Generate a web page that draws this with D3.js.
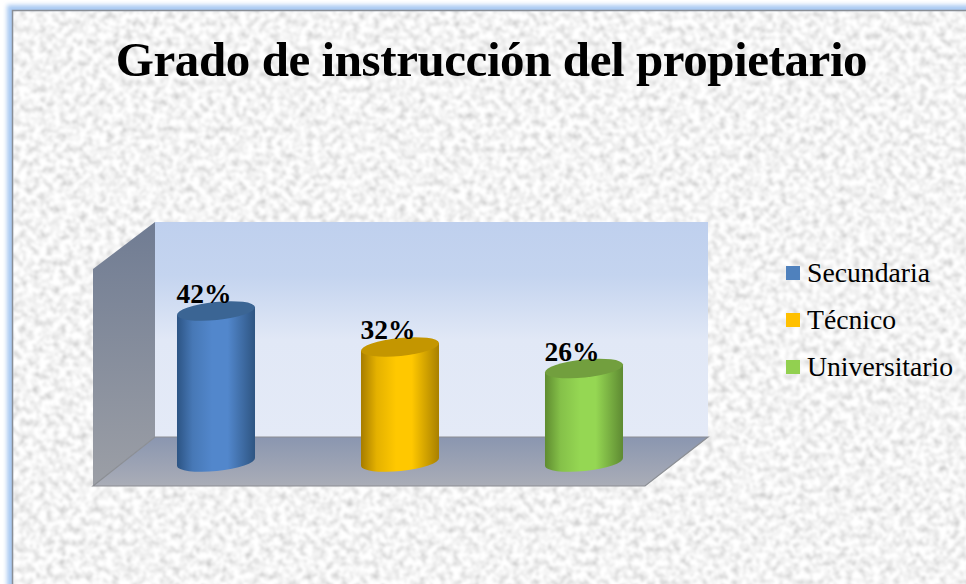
<!DOCTYPE html>
<html>
<head>
<meta charset="utf-8">
<script src="https://cdn.jsdelivr.net/npm/d3@7"></script>
<style>
  html, body { margin: 0; padding: 0; background: #fff; overflow: hidden; }
  svg { display: block; }
  text { font-family: "Liberation Serif", serif; fill: #000; }
</style>
</head>
<body>
<div id="chart"></div>
<script>
// chart values
const categories = ["Secundaria", "Técnico", "Universitario"];
const values = [42, 32, 26];
const valueLabels = ["42%", "32%", "26%"];
const chartTitle = "Grado de instrucción del propietario";

// colours per series: left edge, middle, right edge, cap, legend
const shades = [
  ["#2c5484", "#5287cc", "#2e5582", "#3b6594", "#4f81bd"],
  ["#a67c00", "#ffc800", "#a88000", "#c49600", "#ffc000"],
  ["#5f8c30", "#95d753", "#5e8a32", "#729f3e", "#92d050"]
];

const width = 966, height = 584;

const svg = d3.select("#chart").append("svg")
    .attr("width", width)
    .attr("height", height);

const defs = svg.append("defs");

// paper texture for the background
const paper = defs.append("filter")
    .attr("id", "paper")
    .attr("x", 0).attr("y", 0).attr("width", "100%").attr("height", "100%");
paper.append("feTurbulence")
    .attr("type", "fractalNoise")
    .attr("baseFrequency", 0.15)
    .attr("numOctaves", 2)
    .attr("seed", 7);
paper.append("feColorMatrix")
    .attr("type", "matrix")
    .attr("values", "0.8 0 0 0 0.5  0.8 0 0 0 0.5  0.8 0 0 0 0.5  0 0 0 0 1");
paper.append("feGaussianBlur").attr("stdDeviation", 0.8);

defs.append("filter").attr("id", "glow")
    .attr("x", "-5%").attr("y", "-5%").attr("width", "110%").attr("height", "110%")
  .append("feGaussianBlur").attr("stdDeviation", 2);

function linear(id, stops, vertical) {
  const g = defs.append("linearGradient").attr("id", id)
      .attr("x1", 0).attr("y1", 0)
      .attr("x2", vertical ? 0 : 1).attr("y2", vertical ? 1 : 0);
  stops.forEach(s => g.append("stop").attr("offset", s[0]).attr("stop-color", s[1]));
}

linear("backWall", [[0, "#bfd0ee"], [0.25, "#c4d4ef"], [0.55, "#e1e8f6"], [1, "#e4eaf7"]], true);
linear("sideWall", [[0, "#707c93"], [1, "#9c9fa6"]], true);
linear("floor", [[0, "#8a96b0"], [1, "#aaadb7"]], true);
shades.forEach((s, i) => linear("cyl" + i,
  [[0, s[0]], [0.2, d3.interpolateRgb(s[0], s[1])(0.7)], [0.45, s[1]], [0.65, s[1]], [1, s[2]]], false));

// frame: soft blue edge, then grey line, then the textured panel
svg.append("rect").attr("x", 7).attr("y", 5).attr("width", width + 20).attr("height", height + 20)
    .attr("fill", "#a9c9f2").attr("filter", "url(#glow)");
svg.append("rect").attr("x", 12).attr("y", 10).attr("width", width).attr("height", height)
    .attr("fill", "#fff").attr("filter", "url(#paper)");
svg.append("path").attr("d", `M12.5,${height}V10.5H${width}`)
    .attr("fill", "none").attr("stroke", "#8a8f96").attr("stroke-width", 1.5);

svg.append("text")
    .attr("x", 491.5).attr("y", 76)
    .attr("text-anchor", "middle")
    .attr("font-size", 49)
    .attr("letter-spacing", -0.43)
    .attr("font-weight", "bold")
    .text(chartTitle);

// 3d box: back wall, side wall and floor
const back = {x0: 155, x1: 708, y0: 222, y1: 437};
const depth = {x: 62, y: 49};

svg.append("path")
    .attr("d", `M${back.x0},${back.y0}H${back.x1}V${back.y1}H${back.x0}Z`)
    .attr("fill", "url(#backWall)");
svg.append("path")
    .attr("d", `M${back.x0 - depth.x},${back.y0 + depth.y - 2}L${back.x0},${back.y0}V${back.y1}L${back.x0 - depth.x},${back.y1 + depth.y}Z`)
    .attr("fill", "url(#sideWall)");
svg.append("path")
    .attr("d", `M${back.x0},${back.y1}H${back.x1}L${back.x1 - depth.x - 1},${back.y1 + depth.y}H${back.x0 - depth.x}Z`)
    .attr("fill", "url(#floor)");
svg.append("path")
    .attr("d", `M${back.x0 - depth.x},${back.y1 + depth.y}L${back.x0},${back.y1}H${back.x1}L${back.x1 - depth.x - 1},${back.y1 + depth.y}Z`)
    .attr("fill", "none").attr("stroke", "#8b8e94").attr("stroke-width", 1.2);

// scales
const x = d3.scaleBand().domain(categories).range([124, 676]).paddingInner(0.576).paddingOuter(0.288);
const y = d3.scaleLinear().domain([0, 42]).range([462, 311]);

const tilt = 4, ry = 9;
const rx = () => Math.hypot(x.bandwidth() / 2, tilt);
const angle = -Math.atan(tilt / (x.bandwidth() / 2)) * 180 / Math.PI;

const bars = svg.selectAll(".bar")
    .data(categories.map((c, i) => ({name: c, value: values[i], label: valueLabels[i], i})))
  .enter().append("g")
    .attr("class", "bar");

// cylinder body, closed underneath by the lower half of the ellipse
bars.append("path")
    .attr("fill", d => `url(#cyl${d.i})`)
    .attr("d", d => {
      const x0 = x(d.name), x1 = x0 + x.bandwidth();
      return `M${x0},${y(d.value) + tilt}V${y(0) + tilt}`
        + `A${rx()},${ry} ${angle} 0 0 ${x1},${y(0) - tilt}`
        + `V${y(d.value) - tilt}Z`;
    });

// cylinder cap
bars.append("ellipse")
    .attr("rx", rx())
    .attr("ry", ry)
    .attr("fill", d => shades[d.i][3])
    .attr("transform", d => `translate(${x(d.name) + x.bandwidth() / 2},${y(d.value)}) rotate(${angle})`);

bars.append("text")
    .attr("x", d => x(d.name) + x.bandwidth() / 2 - 12)
    .attr("y", d => y(d.value) - 8)
    .attr("text-anchor", "middle")
    .attr("font-size", 27.5)
    .attr("font-weight", "bold")
    .text(d => d.label);

// legend
const legendY = d3.scalePoint().domain(categories).range([273, 367]);

const legend = svg.selectAll(".legend")
    .data(categories)
  .enter().append("g")
    .attr("class", "legend")
    .attr("transform", d => `translate(786,${legendY(d)})`);

legend.append("rect")
    .attr("y", -7)
    .attr("width", 14)
    .attr("height", 14)
    .attr("fill", (d, i) => shades[i][4]);

legend.append("text")
    .attr("x", 21)
    .attr("y", 9)
    .attr("font-size", 27.7)
    .text(d => d);
</script>
</body>
</html>
